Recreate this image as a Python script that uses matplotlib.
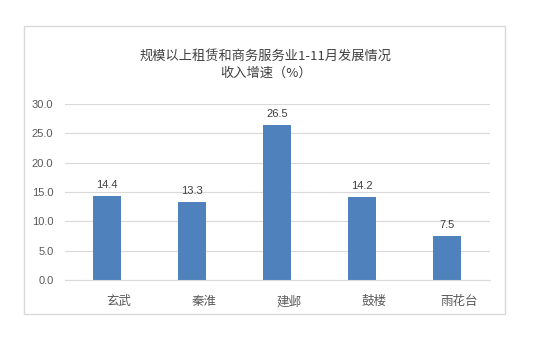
import matplotlib
matplotlib.use("Agg")
import matplotlib.pyplot as plt
from matplotlib.patches import Rectangle

plt.rcParams['font.family'] = ['Noto Sans CJK SC', 'DejaVu Sans']

categories = ["玄武", "秦淮", "建邺", "鼓楼", "雨花台"]
values = [14.4, 13.3, 26.5, 14.2, 7.5]
yticks = [0, 5, 10, 15, 20, 25, 30]
title = "规模以上租赁和商务服务业1-11月发展情况\n收入增速（%）"

fig = plt.figure(figsize=(5.5, 3.52), dpi=100)
fig.patch.set_facecolor("white")

# outer border
fig.patches.append(Rectangle((24/550, 1-314/352), (505-24)/550, (314-26)/352,
                             transform=fig.transFigure, fill=False,
                             edgecolor="#D9D9D9", linewidth=1.0))

ax = fig.add_axes([64.5/550, 72/352, 425/550, 176/352])
x = list(range(len(categories)))
ax.bar(x, values, width=0.32, color="#4F81BD", zorder=3)
ax.set_xlim(-0.5, len(categories)-0.5)
ax.set_ylim(0, 30)
ax.set_yticks(yticks)
ax.set_yticklabels([f"{v:.1f}" for v in yticks], fontsize=8, color="#595959",
                   family=['Liberation Sans', 'DejaVu Sans'])
ax.set_xticks(x)
ax.set_xticklabels([])
for xi, c in zip(x, categories):
    ax.annotate(c, (xi, 0), xytext=(8.5, -11), textcoords="offset points",
                ha="center", va="top", fontsize=9, color="#595959",
                annotation_clip=False)
ax.tick_params(axis='both', length=0)
ax.tick_params(axis='y', pad=8)
ax.grid(axis='y', color="#D9D9D9", linewidth=0.8, zorder=0)
for s in ["top", "right", "left"]:
    ax.spines[s].set_visible(False)
ax.spines["bottom"].set_color("#D9D9D9")
ax.spines["bottom"].set_linewidth(0.8)
ax.spines["bottom"].set_zorder(4)

for xi, v in zip(x, values):
    ax.annotate(f"{v:.1f}", (xi, v), xytext=(0, 4), textcoords="offset points",
                ha="center", va="bottom", fontsize=8, color="#404040",
                family=['Liberation Sans', 'DejaVu Sans'])

fig.text(266/550, 1-65/352, title, ha="center", va="center", fontsize=9.5,
         color="#404040", linespacing=1.4)

fig.savefig("out.png", dpi=100)
